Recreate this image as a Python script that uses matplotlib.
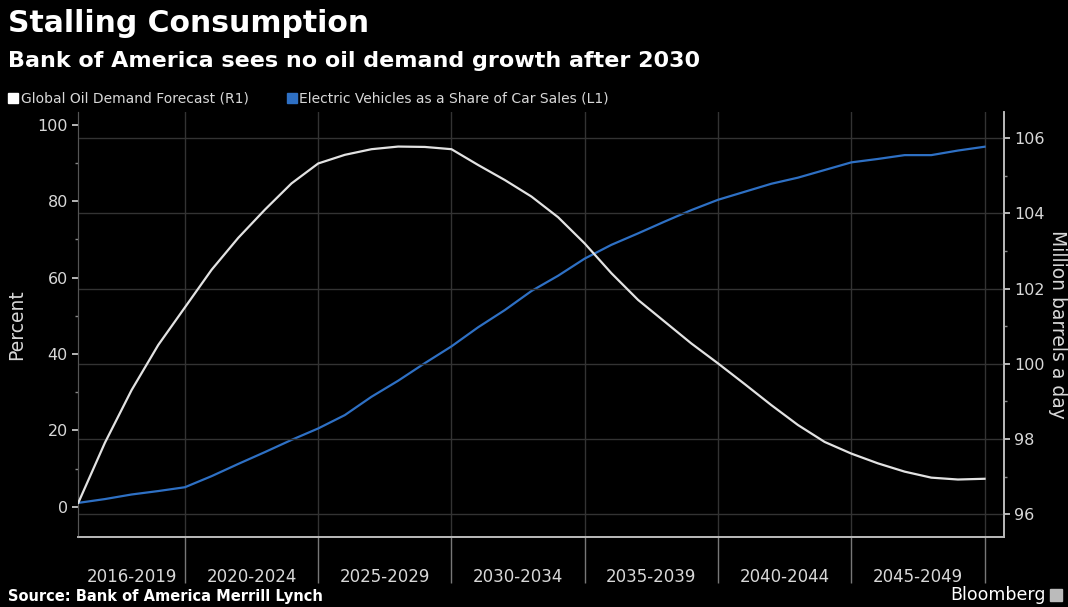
import matplotlib.pyplot as plt
from matplotlib.patches import Rectangle

# yearly values
years = list(range(2016, 2051))

# Electric Vehicles as a Share of Car Sales (L1), percent
ev_share = [1.0, 2.0, 3.2, 4.1, 5.1, 8.0, 11.2, 14.3, 17.5, 20.5,
            24.0, 28.8, 33.0, 37.6, 42.0, 47.0, 51.5, 56.5, 60.5, 65.0,
            68.6, 71.6, 74.7, 77.7, 80.4, 82.5, 84.6, 86.2, 88.2, 90.2,
            91.1, 92.1, 92.1, 93.3, 94.3]

# Global Oil Demand Forecast (R1), million barrels a day
oil_demand = [96.3, 97.9, 99.3, 100.5, 101.5, 102.5, 103.35, 104.1, 104.8, 105.33,
              105.56, 105.71, 105.78, 105.77, 105.71, 105.29, 104.89, 104.45, 103.9, 103.2,
              102.41, 101.70, 101.12, 100.54, 100.01, 99.46, 98.9, 98.37, 97.92, 97.61,
              97.35, 97.13, 96.97, 96.92, 96.94]

period_edges = [2020, 2025, 2030, 2035, 2040, 2045, 2050]
period_centers = [2018, 2022.5, 2027.5, 2032.5, 2037.5, 2042.5, 2047.5]
period_labels = ['2016-2019', '2020-2024', '2025-2029', '2030-2034',
                 '2035-2039', '2040-2044', '2045-2049']

WHITE = '#e2e2e2'
BLUE = '#2e70c4'
GRID = '#333333'
TXT = '#d8d8d8'

plt.rcParams['font.family'] = 'DejaVu Sans'

fig = plt.figure(figsize=(10.68, 6.07), dpi=100, facecolor='black')
ax = fig.add_axes([0.0733, 0.1153, 0.8668, 0.7002])
ax.set_facecolor('black')
ax2 = ax.twinx()

ax.plot(years, ev_share, color=BLUE, lw=1.6, zorder=3)
ax2.plot(years, oil_demand, color=WHITE, lw=1.6, zorder=3)

ax.set_xlim(2016, 2050.73)
ax.set_ylim(-7.94, 103.4)
ax2.set_ylim(95.39, 106.70)

# left axis
ax.set_yticks([0, 20, 40, 60, 80, 100])
ax.set_yticks([10, 30, 50, 70, 90], minor=True)
ax.tick_params(axis='y', which='major', colors=TXT, labelsize=11.5, length=4, width=1.2)
ax.tick_params(axis='y', which='minor', colors='#888888', length=2, width=1)
ax.set_ylabel('Percent', color=TXT, fontsize=13.5, labelpad=8)

# right axis
ax2.set_yticks([96, 98, 100, 102, 104, 106])
ax2.set_yticks([97, 99, 101, 103, 105], minor=True)
ax2.tick_params(axis='y', which='major', colors=TXT, labelsize=11.5, length=4, width=1.2)
ax2.tick_params(axis='y', which='minor', colors='#888888', length=2, width=1)
ax2.set_ylabel('Million barrels a day', color=TXT, fontsize=13.5, rotation=-90, labelpad=16)
ax2.grid(True, axis='y', color=GRID, lw=1)

# x axis: separators as long ticks, labels centred in each period
ax.set_xticks(period_edges)
ax.set_xticklabels([])
ax.set_xticks(period_centers, minor=True)
ax.set_xticklabels(period_labels, minor=True)
ax.tick_params(axis='x', which='major', length=33, width=1, color='#777777', direction='out')
ax.tick_params(axis='x', which='minor', length=0, pad=22, labelsize=12, labelcolor=TXT)
ax.grid(True, axis='x', which='major', color=GRID, lw=1)

for a in (ax, ax2):
    a.spines['top'].set_visible(False)
    a.spines['left'].set_color('#555555')
    a.spines['right'].set_color('#bbbbbb')
    a.spines['bottom'].set_color('#bbbbbb')
    a.spines['bottom'].set_linewidth(1.2)
    a.spines['right'].set_linewidth(1.2)

# titles
fig.text(0.0075, 0.962, 'Stalling Consumption', color='white', fontsize=21.5,
         fontweight='bold', va='center', ha='left')
fig.text(0.0075, 0.899, 'Bank of America sees no oil demand growth after 2030',
         color='white', fontsize=16, fontweight='bold', va='center', ha='left')

# legend
fig.patches.append(Rectangle((8 / 1068, 1 - 103 / 607), 10 / 1068, 10 / 607,
                             transform=fig.transFigure, color='white'))
fig.text(21 / 1068, 1 - 98 / 607, 'Global Oil Demand Forecast (R1)', color=TXT,
         fontsize=10, va='center', ha='left')
fig.patches.append(Rectangle((287 / 1068, 1 - 103 / 607), 10 / 1068, 10 / 607,
                             transform=fig.transFigure, color=BLUE))
fig.text(299 / 1068, 1 - 98 / 607, 'Electric Vehicles as a Share of Car Sales (L1)',
         color=TXT, fontsize=10, va='center', ha='left')

# footer
fig.text(0.0075, 1 - 597 / 607, 'Source: Bank of America Merrill Lynch', color='white',
         fontsize=10.5, fontweight='bold', va='center', ha='left')
fig.text(1046 / 1068, 1 - 595 / 607, 'Bloomberg', color='white', fontsize=12.5,
         va='center', ha='right')
fig.patches.append(Rectangle((1050 / 1068, 1 - 601 / 607), 12 / 1068, 12 / 607,
                             transform=fig.transFigure, color='#bbbbbb'))

fig.savefig('out.png', dpi=100, facecolor='black')
